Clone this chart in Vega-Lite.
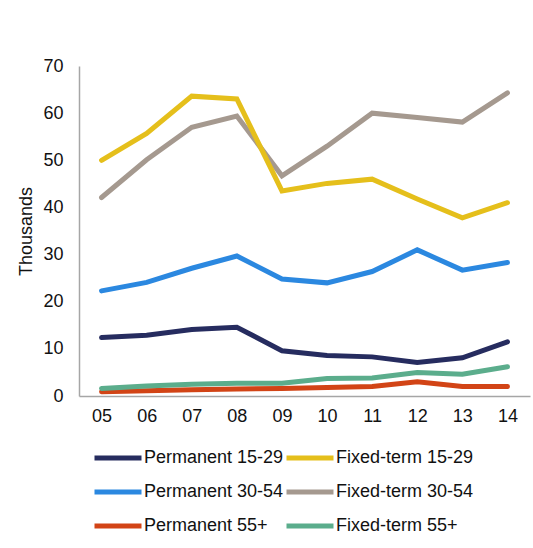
{
  "$schema": "https://vega.github.io/schema/vega-lite/v6.json",
  "width": 451,
  "height": 330,
  "autosize": {"type": "none"},
  "padding": {"left": 79, "top": 66, "right": 3, "bottom": 152},
  "config": {"view": {"stroke": null}, "font": "Liberation Sans"},
  "data": {
    "values": [
      {"year": "05", "series": "Permanent 55+", "value": 0.9},
      {"year": "06", "series": "Permanent 55+", "value": 1.1},
      {"year": "07", "series": "Permanent 55+", "value": 1.3},
      {"year": "08", "series": "Permanent 55+", "value": 1.5},
      {"year": "09", "series": "Permanent 55+", "value": 1.6},
      {"year": "10", "series": "Permanent 55+", "value": 1.8},
      {"year": "11", "series": "Permanent 55+", "value": 2.0},
      {"year": "12", "series": "Permanent 55+", "value": 3.0},
      {"year": "13", "series": "Permanent 55+", "value": 2.0},
      {"year": "14", "series": "Permanent 55+", "value": 2.0},
      {"year": "05", "series": "Fixed-term 55+", "value": 1.6},
      {"year": "06", "series": "Fixed-term 55+", "value": 2.1},
      {"year": "07", "series": "Fixed-term 55+", "value": 2.5},
      {"year": "08", "series": "Fixed-term 55+", "value": 2.7},
      {"year": "09", "series": "Fixed-term 55+", "value": 2.7},
      {"year": "10", "series": "Fixed-term 55+", "value": 3.7},
      {"year": "11", "series": "Fixed-term 55+", "value": 3.8},
      {"year": "12", "series": "Fixed-term 55+", "value": 5.0},
      {"year": "13", "series": "Fixed-term 55+", "value": 4.6},
      {"year": "14", "series": "Fixed-term 55+", "value": 6.2},
      {"year": "05", "series": "Permanent 15-29", "value": 12.4},
      {"year": "06", "series": "Permanent 15-29", "value": 12.9},
      {"year": "07", "series": "Permanent 15-29", "value": 14.1},
      {"year": "08", "series": "Permanent 15-29", "value": 14.6},
      {"year": "09", "series": "Permanent 15-29", "value": 9.6},
      {"year": "10", "series": "Permanent 15-29", "value": 8.6},
      {"year": "11", "series": "Permanent 15-29", "value": 8.3},
      {"year": "12", "series": "Permanent 15-29", "value": 7.1},
      {"year": "13", "series": "Permanent 15-29", "value": 8.1},
      {"year": "14", "series": "Permanent 15-29", "value": 11.5},
      {"year": "05", "series": "Permanent 30-54", "value": 22.3},
      {"year": "06", "series": "Permanent 30-54", "value": 24.1},
      {"year": "07", "series": "Permanent 30-54", "value": 27.1},
      {"year": "08", "series": "Permanent 30-54", "value": 29.7},
      {"year": "09", "series": "Permanent 30-54", "value": 24.8},
      {"year": "10", "series": "Permanent 30-54", "value": 24.0},
      {"year": "11", "series": "Permanent 30-54", "value": 26.4},
      {"year": "12", "series": "Permanent 30-54", "value": 31.0},
      {"year": "13", "series": "Permanent 30-54", "value": 26.7},
      {"year": "14", "series": "Permanent 30-54", "value": 28.3},
      {"year": "05", "series": "Fixed-term 30-54", "value": 42.1},
      {"year": "06", "series": "Fixed-term 30-54", "value": 50.1},
      {"year": "07", "series": "Fixed-term 30-54", "value": 57.0},
      {"year": "08", "series": "Fixed-term 30-54", "value": 59.4},
      {"year": "09", "series": "Fixed-term 30-54", "value": 46.7},
      {"year": "10", "series": "Fixed-term 30-54", "value": 53.0},
      {"year": "11", "series": "Fixed-term 30-54", "value": 60.0},
      {"year": "12", "series": "Fixed-term 30-54", "value": 59.1},
      {"year": "13", "series": "Fixed-term 30-54", "value": 58.1},
      {"year": "14", "series": "Fixed-term 30-54", "value": 64.3},
      {"year": "05", "series": "Fixed-term 15-29", "value": 50.0},
      {"year": "06", "series": "Fixed-term 15-29", "value": 55.7},
      {"year": "07", "series": "Fixed-term 15-29", "value": 63.6},
      {"year": "08", "series": "Fixed-term 15-29", "value": 63.0},
      {"year": "09", "series": "Fixed-term 15-29", "value": 43.5},
      {"year": "10", "series": "Fixed-term 15-29", "value": 45.1},
      {"year": "11", "series": "Fixed-term 15-29", "value": 46.0},
      {"year": "12", "series": "Fixed-term 15-29", "value": 41.8},
      {"year": "13", "series": "Fixed-term 15-29", "value": 37.8},
      {"year": "14", "series": "Fixed-term 15-29", "value": 41.0}
    ]
  },
  "mark": {"type": "line", "strokeWidth": 5, "strokeCap": "round", "strokeJoin": "miter"},
  "encoding": {
    "x": {
      "field": "year",
      "type": "ordinal",
      "scale": {"type": "point", "padding": 0.5},
      "axis": {"title": null, "labelAngle": 0, "labelFontSize": 18, "labelColor": "#111111", "ticks": false, "labelPadding": 11, "domainColor": "#a6a6a6", "domainWidth": 1.5}
    },
    "y": {
      "field": "value",
      "type": "quantitative",
      "scale": {"domain": [0, 70], "nice": false},
      "axis": {"title": "Thousands", "titleFontSize": 18, "titleFontWeight": "normal", "titleColor": "#111111", "titlePadding": 7, "values": [0, 10, 20, 30, 40, 50, 60, 70], "grid": false, "ticks": false, "labelFontSize": 18, "labelColor": "#111111", "labelPadding": 16, "domainColor": "#a6a6a6", "domainWidth": 1.5}
    },
    "color": {
      "field": "series",
      "type": "nominal",
      "scale": {
        "domain": ["Permanent 15-29", "Permanent 30-54", "Permanent 55+", "Fixed-term 15-29", "Fixed-term 30-54", "Fixed-term 55+"],
        "range": ["#262c5f", "#2b88e0", "#d24416", "#e5bf1b", "#a5998f", "#5bad8c"]
      },
      "legend": {"title": null, "orient": "none", "legendX": 13, "legendY": 375, "columns": 2, "direction": "vertical", "symbolType": "stroke", "symbolSize": 2209, "symbolStrokeWidth": 5, "clipHeight": 34, "labelFontSize": 18, "labelColor": "#111111", "labelOffset": 0, "columnPadding": -5, "rowPadding": 0}
    }
  }
}
